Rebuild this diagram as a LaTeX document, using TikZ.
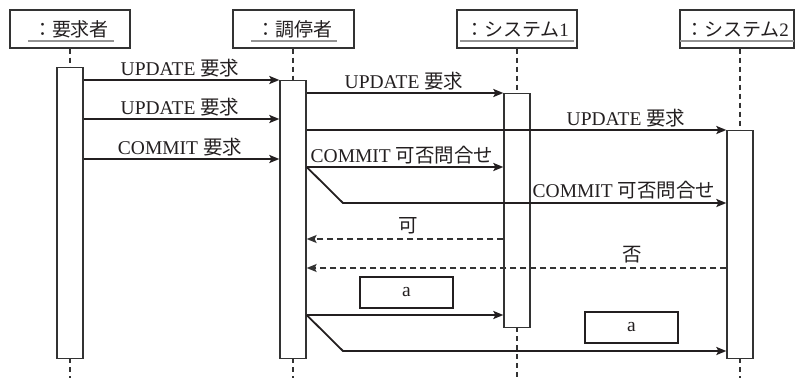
\documentclass[tikz,border=0pt]{standalone}
\usepackage{fontspec}
\setmainfont{Liberation Serif}
\newfontfamily\jp{Noto Sans CJK JP}
\usetikzlibrary{arrows.meta}
\newcommand\J[1]{{\jp #1}}
\definecolor{ink}{HTML}{231F20}
\definecolor{linec}{HTML}{333333}
\begin{document}
\begin{tikzpicture}[x=1pt,y=-1pt,
  every node/.style={font=\fontsize{19.5}{22}\selectfont, text=ink},
  headbox/.style={draw=linec, line width=1.3pt, minimum width=120pt, minimum height=38pt, inner sep=0pt},
  act/.style={draw=linec, fill=white, line width=1.3pt, minimum width=26pt, inner sep=0pt, anchor=north},
  life/.style={draw=linec, line width=1.1pt, dash pattern=on 5pt off 4pt},
  msg/.style={draw=ink, line width=1.8pt, -{Stealth[length=10pt,width=8pt,inset=2pt]}},
  ret/.style={draw=linec, line width=1.5pt, dash pattern=on 6pt off 4pt, -{Stealth[length=10pt,width=8pt,inset=2pt]}},
  lbl/.style={anchor=base, inner sep=0pt},
  htxt/.style={anchor=base, inner sep=0pt, font=\fontsize{19}{22}\selectfont},
  abox/.style={draw=ink, line width=2pt, minimum width=93pt, minimum height=31pt, inner sep=0pt},
  uline/.style={draw=gray!85, line width=1.4pt}]
\useasboundingbox (0,0) rectangle (796,378);
% headers
\node[headbox] (H1) at (70,29) {};
\node[headbox, minimum width=121pt] (H2) at (293.5,29) {};
\node[headbox] (H3) at (517,29) {};
\node[headbox, minimum width=114pt] (H4) at (737,29) {};
\node[htxt] (T1) at (71,36) {\J{：要求者}};
\node[htxt] (T2) at (294,36) {\J{：調停者}};
\node[htxt] (T3) at (517,36) {\J{：システム}1};
\node[htxt] (T4) at (737,36) {\J{：システム}2};
\foreach \t in {T1,T2,T3,T4}
  \draw[uline] ([xshift=-5pt,yshift=-5pt]\t.base west) -- ([xshift=5pt,yshift=-5pt]\t.base east);
% activation placement (coordinates for lifelines)
\coordinate (a1) at (70,67);
\coordinate (a2) at (293,80);
\coordinate (a3) at (517,93);
\coordinate (a4) at (740,130);
% lifelines
\draw[life] (a1 |- H1.south) -- (a1);
\draw[life] (a2 |- H2.south) -- (a2);
\draw[life] (a3 |- H3.south) -- (a3);
\draw[life] (a4 |- H4.south) -- (a4);
\draw[life] (70,358) -- (70,378);
\draw[life] (293,358) -- (293,378);
\draw[life] (517,327) -- (517,378);
\draw[life] (740,358) -- (740,378);
% activations
\node[act, minimum height=291pt] (A1) at (a1) {};
\node[act, minimum height=278pt] (A2) at (a2) {};
\node[act, minimum height=234pt] (A3) at (a3) {};
\node[act, minimum height=228pt] (A4) at (a4) {};
% messages
\draw[msg] (A1.east |- 0,80) -- (A2.west |- 0,80);
\node[lbl] (m1) at (180,75) {UPDATE \J{要求}};
\draw[msg] (A1.east |- 0,119) -- (A2.west |- 0,119);
\node[lbl] (m2) at (180,114) {UPDATE \J{要求}};
\draw[msg] (A1.east |- 0,159) -- (A2.west |- 0,159);
\node[lbl] (m3) at (180,154) {COMMIT \J{要求}};
\draw[msg] (A2.east |- 0,93) -- (A3.west |- 0,93);
\node[lbl] (m4) at (404,88) {UPDATE \J{要求}};
\draw[msg] (A2.east |- 0,130) -- (A4.west |- 0,130);
\node[lbl] (m5) at (626,125) {UPDATE \J{要求}};
\draw[msg] (A2.east |- 0,167) -- (A3.west |- 0,167);
\node[lbl] (m6) at (402,162) {COMMIT \J{可否問合せ}};
\coordinate (k1) at (343,203);
\draw[msg] (A2.east |- 0,167) -- (k1) -- (A4.west |- k1);
\node[lbl] (m7) at (624,197) {COMMIT \J{可否問合せ}};
\draw[ret] (A3.west |- 0,239) -- (A2.east |- 0,239);
\node[lbl] (m8) at (408,232) {\J{可}};
\draw[ret] (A4.west |- 0,268) -- (A2.east |- 0,268);
\node[lbl] (m9) at (632,261) {\J{否}};
\node[abox] (B1) at (406.5,292.5) {a};
\draw[msg] (A2.east |- 0,315) -- (A3.west |- 0,315);
\coordinate (k2) at (343,351);
\draw[msg] (A2.east |- 0,315) -- (k2) -- (A4.west |- k2);
\node[abox] (B2) at (631.5,327) {a};
\end{tikzpicture}
\end{document}
